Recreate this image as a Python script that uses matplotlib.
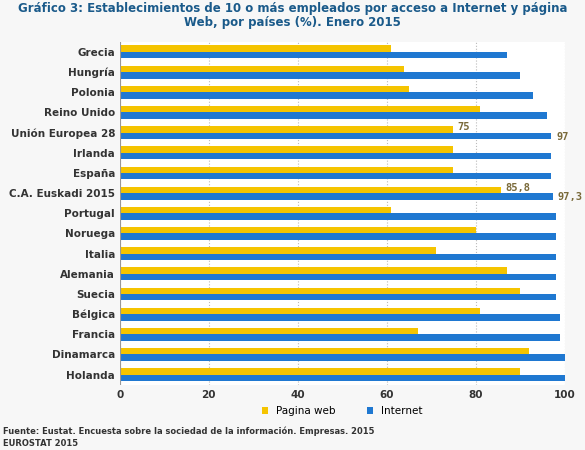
import matplotlib.pyplot as plt
import numpy as np

paises = ["Grecia", "Hungría", "Polonia", "Reino Unido", "Unión Europea 28", "Irlanda",
          "España", "C.A. Euskadi 2015", "Portugal", "Noruega", "Italia", "Alemania",
          "Suecia", "Bélgica", "Francia", "Dinamarca", "Holanda"]
web = [61, 64, 65, 81, 75, 75, 75, 85.8, 61, 80, 71, 87, 90, 81, 67, 92, 90]
internet = [87, 90, 93, 96, 97, 97, 97, 97.3, 98, 98, 98, 98, 98, 99, 99, 100, 100]
etiquetas = {4: ("75", "97"), 7: ("85,8", "97,3")}

fig = plt.figure(figsize=(5.85, 4.5), dpi=100)
fig.patch.set_facecolor("#f7f7f7")
ax = fig.add_axes([0.205, 0.145, 0.76, 0.762])
ax.set_facecolor("white")
y = np.arange(len(paises))
h = 0.32
ax.barh(y - h / 2, web, height=h, color="#f5c400", label="Pagina web")
ax.barh(y + h / 2, internet, height=h, color="#1f78d1", label="Internet")
for i, (a, b) in etiquetas.items():
    ax.text(web[i] + 0.8, i - h / 2 - 0.1, a, fontsize=7.5, color="#7a6a3a",
            fontweight="bold", va="center", family="DejaVu Sans Mono")
    ax.text(internet[i] + 1.2, i + h / 2 + 0.05, b, fontsize=7.5, color="#7a6a3a",
            fontweight="bold", va="center", family="DejaVu Sans Mono")
ax.set_ylim(len(paises) - 0.5, -0.5)
ax.set_xlim(0, 100)
ax.set_xticks(range(0, 101, 20))
ax.set_yticks(y)
ax.set_yticklabels(paises, fontsize=7.5, fontweight="bold", color="#333333")
ax.tick_params(axis="x", labelsize=7.5, length=0, labelcolor="#333333")
ax.tick_params(axis="y", length=0)
for lbl in ax.get_xticklabels():
    lbl.set_fontweight("bold")
ax.grid(axis="x", color="#bbbbbb", linestyle=":", linewidth=0.8)
ax.set_axisbelow(True)
for s in ax.spines.values():
    s.set_visible(False)
ax.axvline(0, color="#999999", linewidth=0.8)
ax.legend(loc="upper center", bbox_to_anchor=(0.5, -0.045), ncol=2, frameon=False,
          fontsize=7.5, handlelength=0.6, handleheight=0.6, columnspacing=3,
          borderpad=0.1)
fig.text(0.5, 0.995, "Gráfico 3: Establecimientos de 10 o más empleados por acceso a Internet y página\n"
         "Web, por países (%). Enero 2015", fontsize=8.5, fontweight="bold",
         color="#1a5a8a", va="top", ha="center", linespacing=1.1)
fig.text(0.005, 0.035, "Fuente: Eustat. Encuesta sobre la sociedad de la información. Empresas. 2015",
         fontsize=6, fontweight="bold", color="#333333")
fig.text(0.005, 0.008, "EUROSTAT 2015", fontsize=6, fontweight="bold", color="#333333")
fig.savefig("out.png", facecolor=fig.get_facecolor())
